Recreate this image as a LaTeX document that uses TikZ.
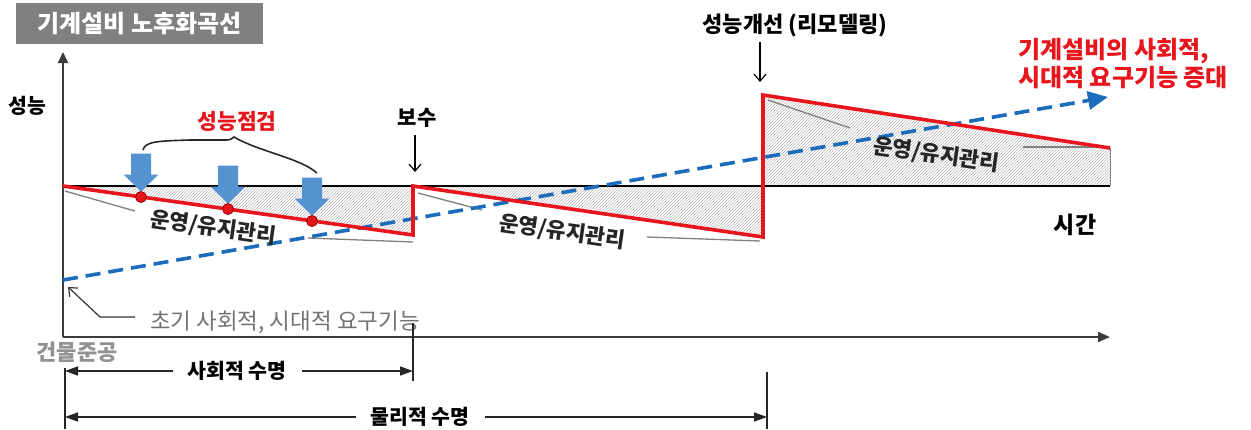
\documentclass[tikz,border=0pt]{standalone}
\usepackage{fontspec}
\setmainfont{Noto Sans CJK KR}
\usetikzlibrary{arrows.meta,patterns}
\definecolor{titlegray}{RGB}{128,128,128}
\definecolor{cred}{RGB}{232,22,28}
\definecolor{dred}{RGB}{150,0,0}
\definecolor{dblue}{RGB}{28,108,188}
\definecolor{bblue}{RGB}{84,146,208}
\definecolor{axisgray}{RGB}{60,60,60}
\definecolor{txtgray}{RGB}{115,115,115}
\definecolor{ltgray}{RGB}{145,145,145}
\newcommand\fsz[1]{\fontsize{#1}{#1}\selectfont}
\tikzset{
  axisline/.style={draw=axisgray, line width=2.2pt},
  dimline/.style={draw=black!85, line width=1.5pt},
  tickline/.style={draw=black!85, line width=1.2pt},
  leader/.style={draw=gray, line width=1.3pt},
  hatch/.style={pattern=north east lines, pattern color=gray!55},
  redline/.style={draw=cred, line width=3.6pt, line join=miter},
  lbl/.style={inner sep=0pt, font=\bfseries\fsz{21}},
  oplbl/.style={inner sep=0pt, font=\bfseries\fsz{21.5}, rotate=-8, text=black!85},
  barrow/.pic={\fill[bblue] (-10,-38) -- (10,-38) -- (10,-17) -- (17.5,-17) -- (0,0) -- (-17.5,-17) -- (-10,-17) -- cycle;},
  dotnode/.style={circle, fill=cred, draw=dred, line width=0.8pt, inner sep=0pt, minimum size=11pt},
  smallarrow/.style={draw=black, line width=1.2pt, -{Straight Barb[length=7pt,width=12pt]}},
  dimtip/.style={{Triangle[length=13pt,width=9pt]}-{Triangle[length=13pt,width=9pt]}},
}
\begin{document}
\begin{tikzpicture}[x=1pt,y=-1pt]
\useasboundingbox (0,0) rectangle (1251,429);
% title
\node[fill=titlegray, minimum width=247pt, minimum height=41pt, inner sep=0pt, text=white, font=\bfseries\fsz{24}] (title) at (139.5,23.5) {기계설비 노후화곡선};

% named points
\coordinate (O) at (63,337);
\coordinate (Ytop) at (63,52);
\coordinate (Xend) at (1110,337);
\coordinate (B0) at (63,186);
\coordinate (B1) at (1110,186);
\coordinate (R0) at (63,186);
\coordinate (R1) at (413,235);
\coordinate (R2) at (413,186);
\coordinate (R3) at (763,237);
\coordinate (R4) at (763,95);
\coordinate (R5) at (1110,148);
\coordinate (Q0) at (63,280);
\coordinate (Q1) at (1108,97);

% hatched regions
\fill[hatch] (R0) -- (R2) -- (R1) -- cycle;
\fill[hatch] (R2) -- (763,186) -- (R3) -- cycle;
\fill[hatch] (R4) -- (R5) -- (B1) -- (763,186) -- cycle;
\draw[draw=gray, line width=1pt] (R5) -- (B1);

% axes
\draw[axisline, -{Triangle[length=11pt,width=10pt]}] (O) -- (Ytop);
\draw[axisline, -{Triangle[length=12pt,width=10pt]}] (O) -- (Xend);
% baseline
\draw[line width=2.6pt] (B0) -- (B1);

% gray leaders
\draw[leader] (65,191) -- (135,211);
\draw[leader] (308,238) -- (413,242);
\draw[leader] (418,193) -- (482,210);
\draw[leader] (647,237) -- (760,241);
\draw[leader] (768,100) -- (850,128);
\draw[leader] (1023,147) -- (1107,147);

% blue dashed
\draw[dblue, line width=3.6pt, dash pattern=on 15pt off 8pt, -{Triangle[length=20pt,width=18pt]}] (Q0) -- (Q1);

% red curve
\draw[redline] (R0) -- (R1) -- (R2) -- (R3) -- (R4) -- (R5);

% inspection arrows and dots
\pic at (141,191.5) {barrow};
\pic at (228,203.5) {barrow};
\pic at (312,215.5) {barrow};
\node[dotnode] (d1) at (141,197) {};
\node[dotnode] (d2) at (228,209) {};
\node[dotnode] (d3) at (312,221) {};

% brace
\draw[line width=1.6pt, black!85] (143,150) .. controls (145,141) and (160,141) .. (190,140) -- (226,140) .. controls (230,140) and (232,139) .. (234,137) .. controls (260,152) and (300,158) .. (317,173);

% labels
\node[lbl, text=cred, font=\bfseries\fsz{21.5}] (chk) at (237,121) {성능점검};
\node[lbl, font=\bfseries\fsz{20.5}] (perf) at (27,106) {성능};
\node[lbl] (repair) at (417,118) {보수};
\node[lbl, font=\bfseries\fsz{22}] (impr) at (795,25) {성능개선 (리모델링)};
\node[lbl, font=\bfseries\fsz{23}] (time) at (1075,225) {시간};
\node[lbl, text=cred, align=left, anchor=west, font=\bfseries\fontsize{24}{28}\selectfont] (req) at (1018,64) {기계설비의 사회적,\\시대적 요구기능 증대};

\coordinate (repA) at (415,135);
\coordinate (repB) at (415,172);
\draw[smallarrow] (repA) -- (repB);
\coordinate (impA) at (760,42);
\coordinate (impB) at (760,82);
\draw[smallarrow] (impA) -- (impB);

\node[oplbl] (op1) at (213,228) {운영/유지관리};
\node[oplbl] (op2) at (562,232) {운영/유지관리};
\node[oplbl] (op3) at (936,155) {운영/유지관리};

% initial requirement leader
\coordinate (I0) at (68,287);
\coordinate (I1) at (100,317);
\coordinate (I2) at (135,317);
\draw[smallarrow, draw=black!80] (I2) -- (I1) -- (I0);
\node[inner sep=0pt, text=txtgray, font=\fsz{22.5}] (init) at (285,322) {초기 사회적, 시대적 요구기능};
\node[inner sep=0pt, text=ltgray, font=\bfseries\fsz{22}] (bld) at (77,352) {건물준공};

% dimension lines
\coordinate (V1a) at (413,323);
\coordinate (V1b) at (413,381);
\coordinate (V2a) at (65,368);
\coordinate (V2b) at (65,429);
\coordinate (V3a) at (767,372);
\coordinate (V3b) at (767,429);
\draw[tickline] (V1a) -- (V1b);
\draw[tickline] (V2a) -- (V2b);
\draw[tickline] (V3a) -- (V3b);
\coordinate (S0) at (65,371);
\coordinate (S1) at (413,371);
\coordinate (P0) at (65,417);
\coordinate (P1) at (767,417);
\draw[dimline, dimtip] (S0) -- (S1);
\draw[dimline, dimtip] (P0) -- (P1);
\node[fill=white, inner xsep=15pt, inner ysep=2pt, font=\bfseries\fsz{20.5}] (soc) at (237,371) {사회적 수명};
\node[fill=white, inner xsep=15pt, inner ysep=2pt, font=\bfseries\fsz{20.5}] (phy) at (420,417) {물리적 수명};
\end{tikzpicture}
\end{document}
